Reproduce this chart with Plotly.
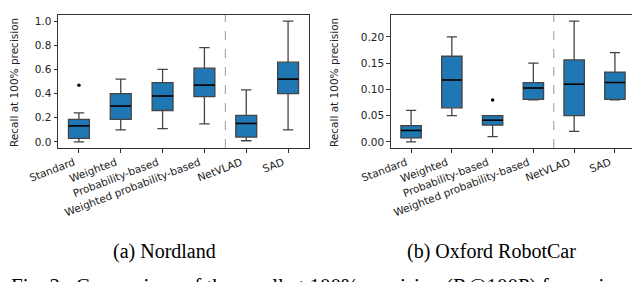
import plotly.graph_objects as go

categories = ["Standard", "Weighted", "Probability-based", "Weighted probability-based", "NetVLAD", "SAD"]

# Nordland
n_low = [0.0, 0.10, 0.11, 0.15, 0.01, 0.10]
n_q1 = [0.03, 0.186, 0.26, 0.375, 0.04, 0.40]
n_med = [0.133, 0.297, 0.38, 0.47, 0.153, 0.52]
n_q3 = [0.186, 0.40, 0.49, 0.61, 0.22, 0.66]
n_high = [0.24, 0.52, 0.60, 0.78, 0.43, 1.0]
n_out_x = ["Standard"]
n_out_y = [0.47]

# Oxford RobotCar
o_low = [0.0, 0.05, 0.01, 0.08, 0.02, 0.08]
o_q1 = [0.0077, 0.065, 0.032, 0.081, 0.05, 0.081]
o_med = [0.022, 0.118, 0.0415, 0.1025, 0.11, 0.113]
o_q3 = [0.031, 0.163, 0.05, 0.113, 0.156, 0.133]
o_high = [0.06, 0.20, 0.05, 0.15, 0.23, 0.17]
o_out_x = ["Probability-based"]
o_out_y = [0.08]

n_ticks = [0.0, 0.2, 0.4, 0.6, 0.8, 1.0]
o_ticks = [0.0, 0.05, 0.10, 0.15, 0.20]

BLUE = "#1f77b4"
W, H = 640, 282
pos = list(range(len(categories)))

fig = go.Figure()


def add_panel(xa, ya, low, q1, med, q3, high, ox, oy):
    fig.add_trace(go.Box(
        x=pos, q1=q1, median=med, q3=q3, lowerfence=low, upperfence=high,
        xaxis=xa, yaxis=ya, fillcolor=BLUE, line=dict(color="#444444", width=1.3),
        width=0.5, whiskerwidth=0.5, boxpoints=False, showlegend=False, hoverinfo="skip"))
    # black median lines
    mx, my = [], []
    for i, m in enumerate(med):
        mx += [i - 0.25, i + 0.25, None]
        my += [m, m, None]
    fig.add_trace(go.Scatter(x=mx, y=my, mode="lines", xaxis=xa, yaxis=ya,
                             line=dict(color="black", width=1.5), showlegend=False, hoverinfo="skip"))
    fig.add_trace(go.Scatter(x=[categories.index(c) for c in ox], y=oy, mode="markers", xaxis=xa, yaxis=ya,
                             marker=dict(color="black", size=3.5), showlegend=False, hoverinfo="skip"))


add_panel("x", "y", n_low, n_q1, n_med, n_q3, n_high, n_out_x, n_out_y)
add_panel("x2", "y2", o_low, o_q1, o_med, o_q3, o_high, o_out_x, o_out_y)

ytop, ybot = 1 - 7 / H, 1 - 140 / H

axis_common = dict(showline=True, mirror=True, linecolor="#333", linewidth=1,
                   ticks="outside", ticklen=3.5, tickcolor="#333", showgrid=False, zeroline=False,
                   tickfont=dict(family="DejaVu Sans", size=10.5, color="#222"))

xcommon = dict(type="linear", range=[-0.5, 5.5], tickmode="array", tickvals=pos, ticktext=categories,
               tickangle=-21, automargin=False, ticklabelshift=-5, **axis_common)

fig.update_layout(
    width=W, height=H, margin=dict(l=0, r=0, t=0, b=0),
    plot_bgcolor="white", paper_bgcolor="white",
    xaxis=dict(domain=[50 / W, 301 / W], anchor="y", **xcommon),
    yaxis=dict(domain=[ybot, ytop], range=[-0.05, 1.05], tickmode="array", tickvals=n_ticks,
               ticktext=[f"{v:.1f}" for v in n_ticks], anchor="x", automargin=False, **axis_common),
    xaxis2=dict(domain=[382.7 / W, 627.3 / W], anchor="y2", **xcommon),
    yaxis2=dict(domain=[ybot, ytop], range=[-0.0115, 0.2415], tickmode="array", tickvals=o_ticks,
                ticktext=[f"{v:.2f}" for v in o_ticks], anchor="x2", automargin=False, **axis_common),
)

for xr, yr in [("x", "y"), ("x2", "y2")]:
    fig.add_shape(type="line", xref=xr, yref=f"{yr} domain", x0=3.5, x1=3.5, y0=0, y1=1,
                  line=dict(color="#999", width=1, dash="dash"))

ylab = "Recall at 100% precision"
fig.add_annotation(text=ylab, x=6 / W, y=1 - 75 / H, xref="paper", yref="paper", textangle=-90,
                   showarrow=False, font=dict(family="DejaVu Sans", size=10.5, color="#222"),
                   xanchor="center", yanchor="middle")
fig.add_annotation(text=ylab, x=326 / W, y=1 - 75 / H, xref="paper", yref="paper", textangle=-90,
                   showarrow=False, font=dict(family="DejaVu Sans", size=10.5, color="#222"),
                   xanchor="center", yanchor="middle")

serif = dict(family="Liberation Serif", size=20, color="black")
fig.add_annotation(text="(a) Nordland", x=156 / W, y=1 - 243 / H, xref="paper", yref="paper",
                   showarrow=False, font=serif, xanchor="center", yanchor="middle")
fig.add_annotation(text="(b) Oxford RobotCar", x=483.5 / W, y=1 - 243 / H, xref="paper", yref="paper",
                   showarrow=False, font=serif, xanchor="center", yanchor="middle")
caption = "Fig. 2.\u00a0\u00a0Comparison of the recall at 100% precision (R@100P) for various"
fig.add_annotation(text=caption,
                   x=1 / W, y=1 - 264 / H, xref="paper", yref="paper",
                   showarrow=False, font=dict(family="Liberation Serif", size=21, color="black"),
                   xanchor="left", yanchor="top")

fig.write_html("out.html")
